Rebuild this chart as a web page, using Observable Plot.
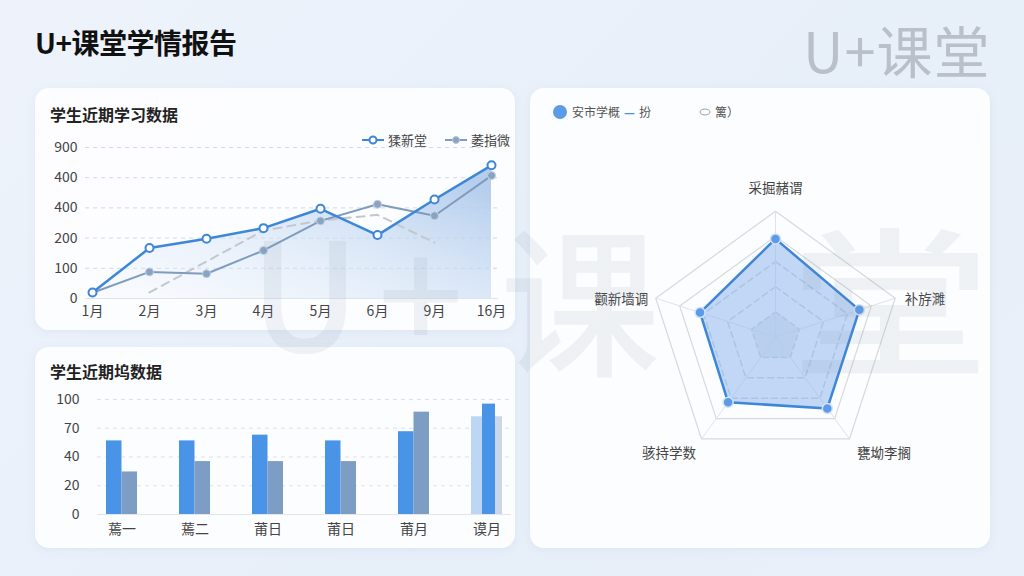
<!DOCTYPE html>
<html><head><meta charset="utf-8">
<script src="https://cdn.jsdelivr.net/npm/d3@7"></script>
<script src="https://cdn.jsdelivr.net/npm/@observablehq/plot@0.6"></script>
<style>
body{margin:0;width:1024px;height:576px;overflow:hidden;position:relative;
 font-family:"Noto Sans CJK SC","Noto Sans",sans-serif;
 background:linear-gradient(135deg,#eef3fb 0%,#e7eff9 60%,#e9f0fa 100%);}
.abs{position:absolute}
.card{position:absolute;background:rgba(255,255,255,0.86);border-radius:14px;box-shadow:0 2px 10px rgba(120,150,190,0.10)}
#title{left:35px;top:22px;font-size:28px;font-weight:700;color:#111;letter-spacing:-0.5px}
#wmSmall{left:803px;top:8px;font-size:56px;color:#b9c0c9;font-weight:400;letter-spacing:1px}
.wm{position:absolute;line-height:1;color:rgba(120,135,155,0.10);font-weight:500;white-space:nowrap;pointer-events:none}
.ctitle{font-size:16px;font-weight:700;color:#222}
.leg{font-size:13px;color:#444;display:flex;align-items:center;gap:4px;white-space:nowrap}
svg{overflow:visible}
</style></head><body>
<div id="title" class="abs">U+课堂学情报告</div>
<div id="wmSmall" class="abs">U+课堂</div>

<div class="card" style="left:35px;top:88px;width:480px;height:242px"></div>
<div class="card" style="left:35px;top:347px;width:480px;height:201px"></div>
<div class="card" style="left:530px;top:88px;width:460px;height:460px"></div>

<div class="abs ctitle" style="left:50px;top:102px">学生近期学习数据</div>
<div class="abs ctitle" style="left:50px;top:359px">学生近期坞数据</div>

<div class="abs leg" style="left:362px;top:130px">
 <svg width="22" height="10"><line x1="0" y1="5" x2="22" y2="5" stroke="#3d86d8" stroke-width="2"/><circle cx="11" cy="5" r="3.5" fill="#fff" stroke="#3d86d8" stroke-width="2"/></svg>
 <span id="legA"></span>
 <span style="width:10px"></span>
 <svg width="22" height="10"><line x1="0" y1="5" x2="22" y2="5" stroke="#7f9bbd" stroke-width="2"/><circle cx="11" cy="5" r="3.5" fill="#8aa3c2" stroke="#b8c8da" stroke-width="1"/></svg>
 <span id="legB"></span>
</div>

<div class="abs leg" style="left:552px;top:103px;font-size:12px;color:#555">
 <svg width="16" height="16"><circle cx="8" cy="8" r="7" fill="#5b9be8"/></svg>
 <span id="legR1"></span>
 <span style="color:#4a90e2;font-weight:700">—</span>
 <span id="legR2"></span>
 <span style="width:40px"></span>
 <svg width="12" height="8"><ellipse cx="6" cy="4" rx="5" ry="3" fill="none" stroke="#9aa3ad" stroke-width="1"/></svg>
 <span id="legR3"></span>
</div>

<div id="line" class="abs" style="left:35px;top:130px"></div>
<div id="bar" class="abs" style="left:35px;top:385px"></div>
<div id="radar" class="abs" style="left:530px;top:150px"></div>

<div class="wm" style="left:250px;top:212px;font-size:150px">U</div>
<div class="wm" style="left:378px;top:212px;font-size:150px">+</div>
<div class="wm" style="left:500px;top:214px;font-size:160px">课</div>
<div class="wm" style="left:790px;top:214px;font-size:160px;transform:scaleX(1.25);transform-origin:left top">堂</div>

<script>
// ---------- data ----------
const lineSeriesNames = ["猱新堂", "萎指微"];
const months = ["1月","2月","3月","4月","5月","6月","9月","16月"];
const lineYTickValues = [0,100,200,300,400,500];
const lineYTickLabels = ["0","100","200","400","400","900"];
const seriesA = [20,167,198,233,297,210,328,441];
const seriesB = [19,88,82,159,257,312,274,407];
const trendMonths = ["2月","4月","5月","6月","9月"];
const trendValues = [20,225,258,277,185];

const barCats = ["蔫一","蔫二","莆日","莆日","莆月","谟月"];
const barYTickValues = [0,25,50,75,100];
const barYTickLabels = ["0","20","40","70","100"];
const barBlue = [64,64,69,64,72,85];
const barGray = [37,46,46,46,89,85];
const barHighlight = [null,null,null,null,null,96];

const radarLegend = ["安市学概","扮","篱）"];
const radarAxes = ["采掘赭谓","补斿濉","甕坳李搁","骇持学数","颧新墙调"];
const radarValues = [0.78,0.70,0.70,0.64,0.63];
const radarLevels = [0.2,0.4,0.6,0.8,1.0];

document.getElementById("legA").textContent = lineSeriesNames[0];
document.getElementById("legB").textContent = lineSeriesNames[1];
document.getElementById("legR1").textContent = radarLegend[0];
document.getElementById("legR2").textContent = radarLegend[1];
document.getElementById("legR3").textContent = radarLegend[2];

const FONT = '"Noto Sans CJK SC","Noto Sans",sans-serif';

// ---------- line chart ----------
const rowsA = months.map((m,i)=>({m, v:seriesA[i]}));
const rowsB = months.map((m,i)=>({m, v:seriesB[i]}));
const rowsT = trendMonths.map((m,i)=>({m, v:trendValues[i]}));

function gradDefs(){
  const ns="http://www.w3.org/2000/svg";
  const defs=document.createElementNS(ns,"defs");
  const g=document.createElementNS(ns,"linearGradient");
  g.setAttribute("id","lineGrad");
  g.setAttribute("x1","0");g.setAttribute("y1","1");g.setAttribute("x2","1");g.setAttribute("y2","0.2");
  [["0","#e8f0fb","0.15"],["0.55","#c9dcf3","0.55"],["1","#a9c6ea","0.85"]].forEach(([o,c,op])=>{
    const s=document.createElementNS(ns,"stop");
    s.setAttribute("offset",o);s.setAttribute("stop-color",c);s.setAttribute("stop-opacity",op);g.appendChild(s);
  });
  defs.appendChild(g);
  return defs;
}

const lineChart = Plot.plot({
  width:480, height:200, marginTop:17, marginBottom:32, marginLeft:50, marginRight:17,
  style:{fontSize:"14px", fontFamily:FONT, color:"#444", background:"transparent"},
  x:{type:"point", domain:months, padding:0.12, label:null, tickSize:0, tickPadding:8},
  y:{domain:[0,500], ticks:lineYTickValues, tickFormat:d=>lineYTickLabels[lineYTickValues.indexOf(d)], label:null, tickSize:0, tickPadding:8},
  marks:[
    gradDefs,
    Plot.ruleY(lineYTickValues.slice(1), {stroke:"#d3d9e1", strokeDasharray:"4,4"}),
    Plot.ruleY([0], {stroke:"#dfe4ea"}),
    Plot.areaY(rowsA, {x:"m", y:"v", fill:"url(#lineGrad)"}),
    Plot.line(rowsT, {x:"m", y:"v", stroke:"#c3c8d0", strokeWidth:2, strokeDasharray:"8,6"}),
    Plot.line(rowsB, {x:"m", y:"v", stroke:"#7f9bbd", strokeWidth:2}),
    Plot.dot(rowsB, {x:"m", y:"v", r:4, fill:"#8aa3c2", stroke:"#c5d3e3", strokeWidth:1}),
    Plot.line(rowsA, {x:"m", y:"v", stroke:"#3d86d8", strokeWidth:2.5}),
    Plot.dot(rowsA, {x:"m", y:"v", r:4, fill:"#fff", stroke:"#3d86d8", strokeWidth:2})
  ]
});
document.getElementById("line").appendChild(lineChart);

// ---------- bar chart ----------
const idx = d3.range(barCats.length);
const rowsBlue = idx.map(i=>({i, v:barBlue[i], last:i===barCats.length-1}));
const rowsGray = idx.map(i=>({i, v:barGray[i], last:i===barCats.length-1}));
const rowsHi = idx.filter(i=>barHighlight[i]!=null).map(i=>({i, v:barHighlight[i]}));

const barChart = Plot.plot({
  width:480, height:160, marginTop:14, marginBottom:31, marginLeft:62, marginRight:4,
  style:{fontSize:"14px", fontFamily:FONT, color:"#444", background:"transparent"},
  x:{type:"band", domain:idx, paddingInner:0.58, paddingOuter:0.1, tickFormat:i=>barCats[i], label:null, tickSize:0, tickPadding:10},
  y:{domain:[0,100], ticks:barYTickValues, tickFormat:d=>barYTickLabels[barYTickValues.indexOf(d)], label:null, tickSize:0, tickPadding:18},
  marks:[
    Plot.ruleY(barYTickValues.slice(1), {stroke:"#dde2e8", strokeDasharray:"4,4"}),
    Plot.ruleY([0], {stroke:"#e2e6eb"}),
    Plot.barY(rowsBlue, {x:"i", y:"v", fill:d=>d.last?"#bcd6f3":"#4a94e8", insetRight:15.5}),
    Plot.barY(rowsGray, {x:"i", y:"v", fill:d=>d.last?"#c9d7e8":"#7d9dc5", insetLeft:15.5}),
    Plot.barY(rowsHi, {x:"i", y:"v", fill:"#4a94e8", insetLeft:11, insetRight:7})
  ]
});
document.getElementById("bar").appendChild(barChart);

// ---------- radar chart ----------
const n = radarAxes.length;
const ang = i => i*2*Math.PI/n;
const px = (r,i) => r*Math.sin(ang(i));
const py = (r,i) => r*Math.cos(ang(i));
const ringPts = radarLevels.flatMap(l => d3.range(n+1).map(k=>({l, x:px(l,k%n), y:py(l,k%n)})));
const spokes = d3.range(n).map(i=>({x:px(1,i), y:py(1,i)}));
const dataPts = radarValues.map((v,i)=>({x:px(v,i), y:py(v,i)}));
const lab = radarAxes.map((t,i)=>({t,i}));
const labR = [1.18,1.08,1.1,1.1,1.08];

const radarChart = Plot.plot({
  width:460, height:330, margin:0,
  style:{fontSize:"13px", fontFamily:FONT, color:"#444", background:"transparent"},
  x:{domain:[-1,1], range:[119.1,370.9], axis:null},
  y:{domain:[-1,1], range:[312.5,60.7], axis:null},
  marks:[
    Plot.line(ringPts.filter(d=>d.l===radarLevels[0]), {x:"x", y:"y", fill:"#c8ccd3", fillOpacity:0.35, stroke:"#cfd3d9", strokeDasharray:"5,4"}),
    Plot.line(ringPts.filter(d=>d.l>radarLevels[0] && d.l<0.7), {x:"x", y:"y", z:"l", stroke:"#cdd2d8", strokeDasharray:"6,4"}),
    Plot.line(ringPts.filter(d=>d.l>0.7), {x:"x", y:"y", z:"l", stroke:"#d6dade", strokeWidth:1.2}),
    Plot.link(spokes, {x1:0, y1:0, x2:"x", y2:"y", stroke:"#dfe3e8"}),
    Plot.area(dataPts, {x1:"x", y1:"y", x2:0, y2:0, curve:"linear-closed", fill:"#8fb8ec", fillOpacity:0.55}),
    Plot.line(dataPts, {x:"x", y:"y", curve:"linear-closed", stroke:"#3d86d8", strokeWidth:2.5}),
    Plot.dot(dataPts, {x:"x", y:"y", r:5, fill:"#5b9be8", stroke:"#d2e2f7", strokeWidth:1.5}),
    Plot.text(lab.filter(d=>d.i===0), {x:d=>px(labR[d.i],d.i), y:d=>py(labR[d.i],d.i), text:"t", textAnchor:"middle", fill:"#444", fontSize:13.5}),
    Plot.text(lab.filter(d=>d.i===1||d.i===2), {x:d=>px(labR[d.i],d.i), y:d=>py(labR[d.i],d.i), text:"t", textAnchor:"start", fill:"#444", fontSize:13.5, dy:5}),
    Plot.text(lab.filter(d=>d.i===3||d.i===4), {x:d=>px(labR[d.i],d.i), y:d=>py(labR[d.i],d.i), text:"t", textAnchor:"end", fill:"#444", fontSize:13.5, dy:5, dx:2})
  ]
});
document.getElementById("radar").appendChild(radarChart);
</script>
</body></html>
